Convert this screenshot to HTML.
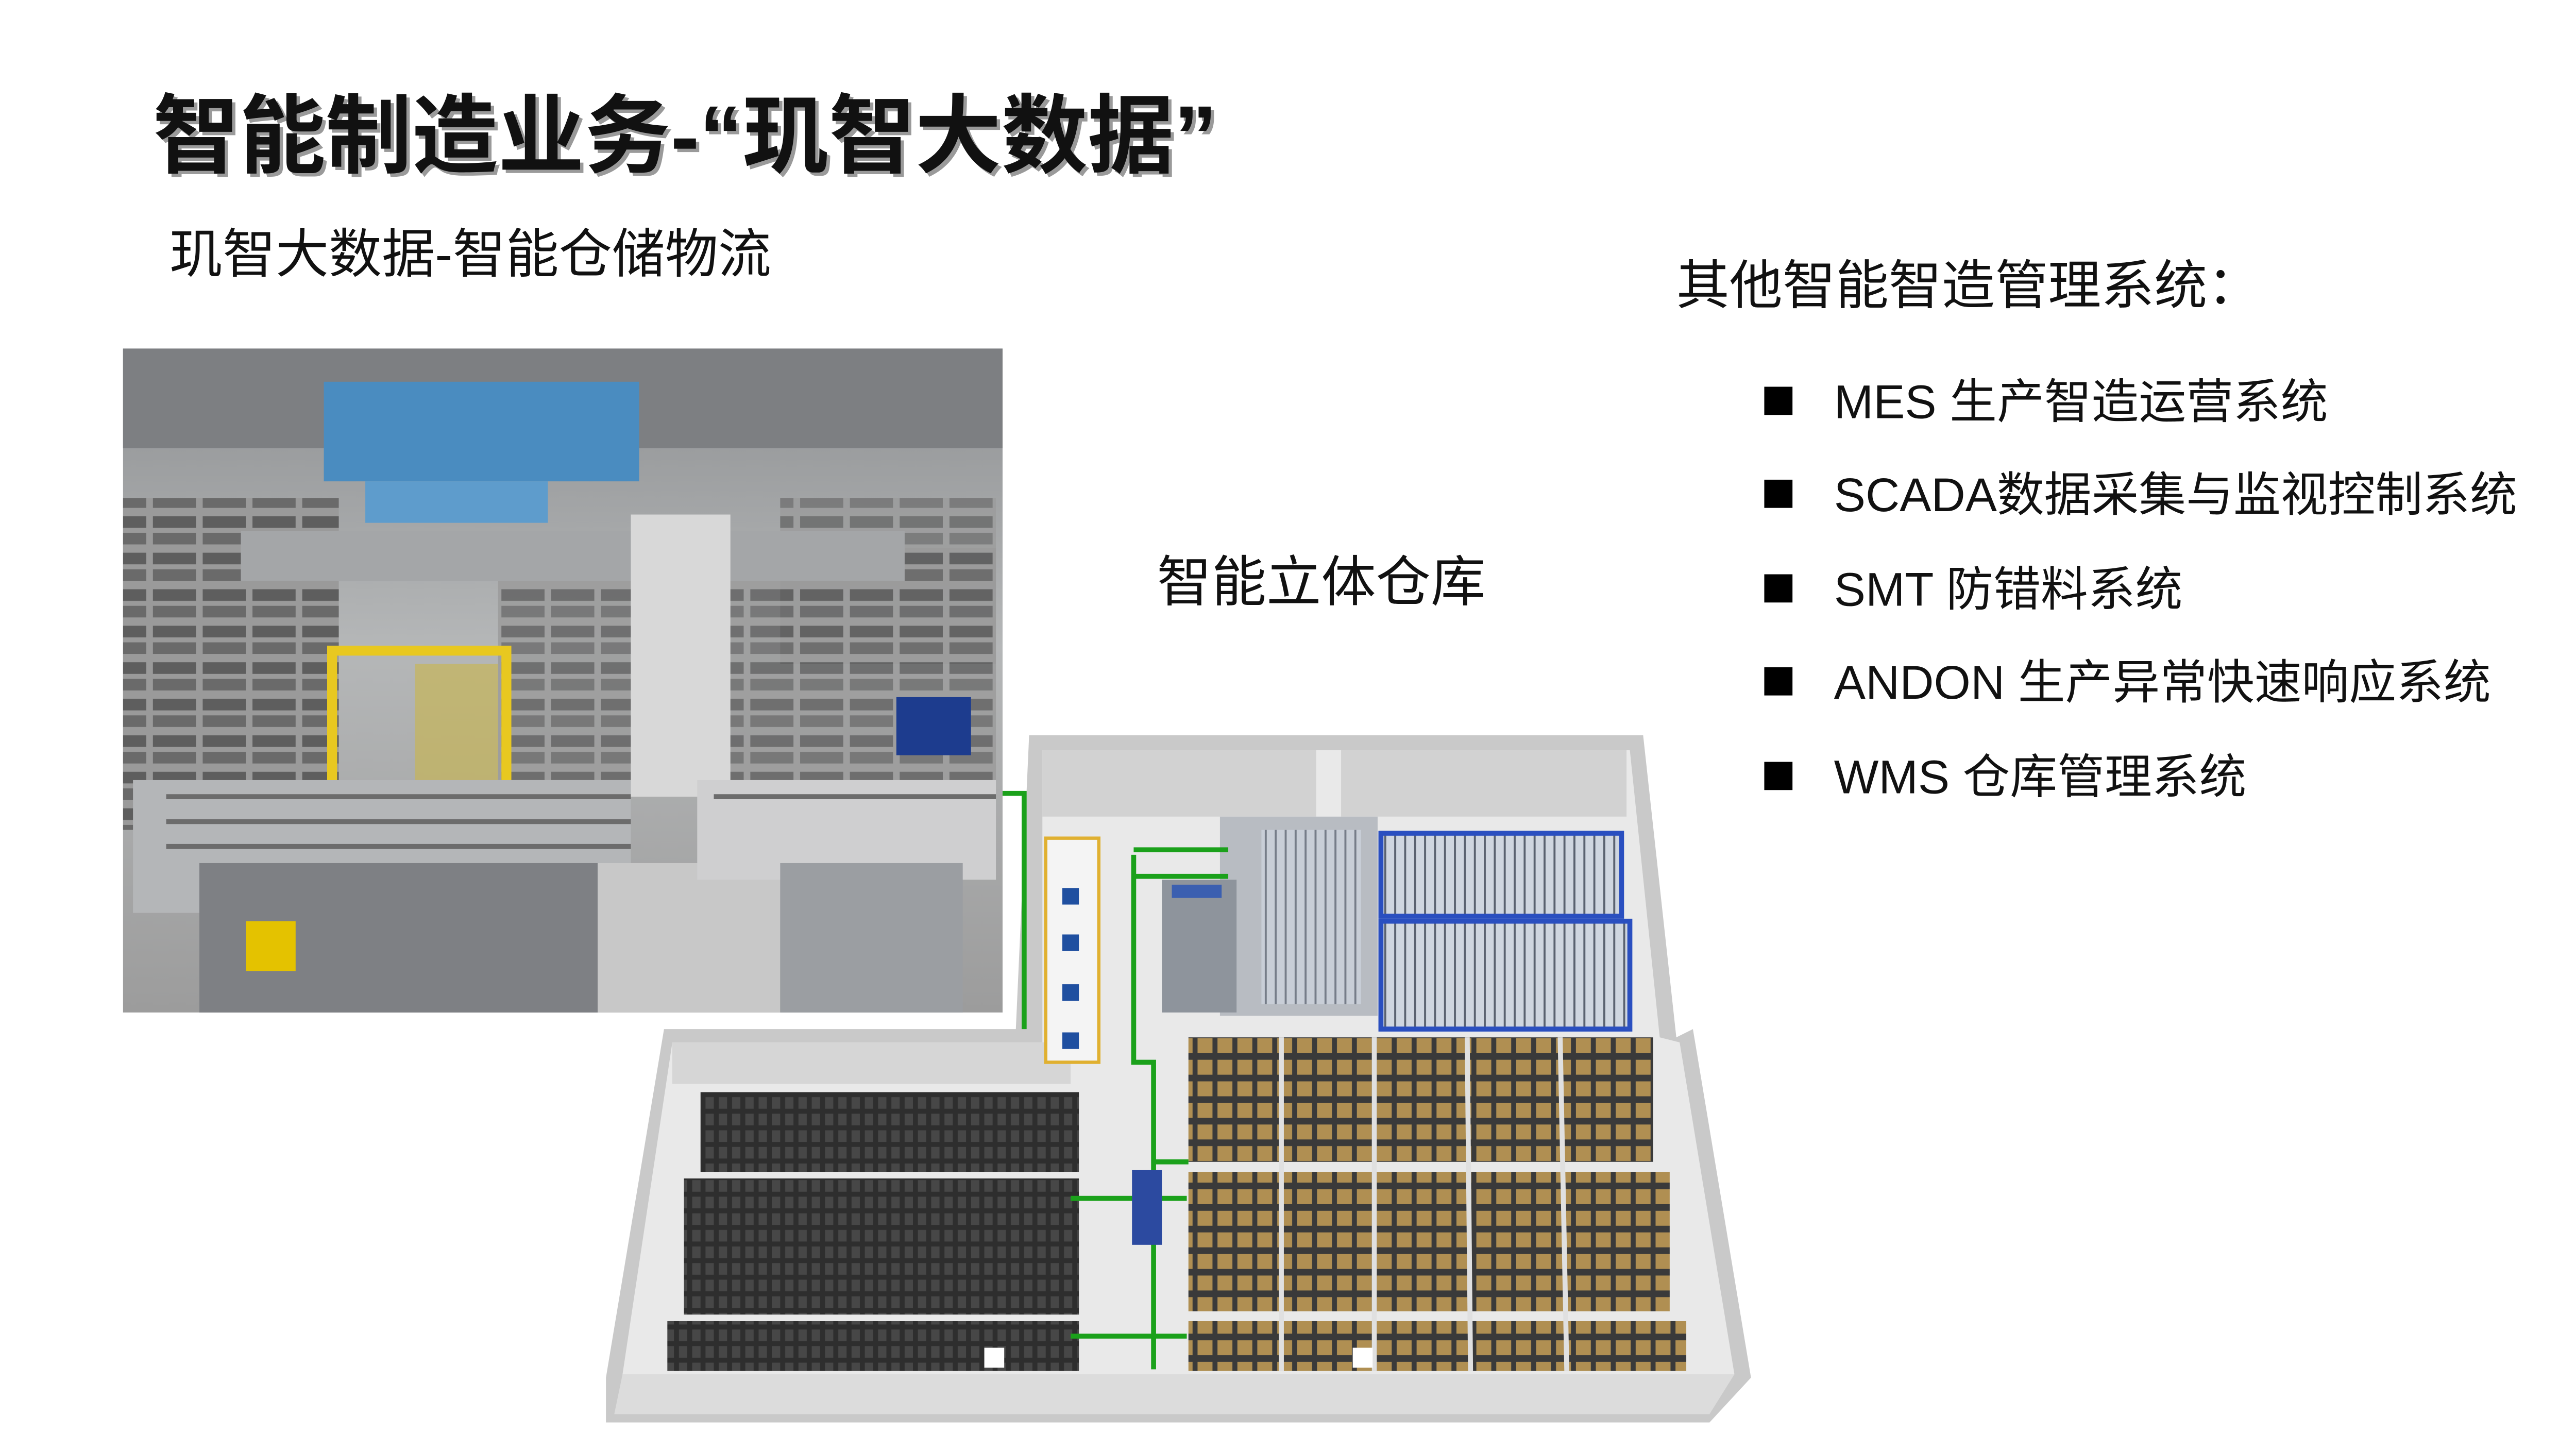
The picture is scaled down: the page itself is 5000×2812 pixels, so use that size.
<!DOCTYPE html>
<html><head><meta charset="utf-8">
<style>
html,body{margin:0;padding:0;background:#fff;}
svg{display:block;}
text{font-family:"Liberation Sans","Noto Sans CJK SC",sans-serif;}
</style></head>
<body>
<svg width="5000" height="2812" viewBox="0 0 1552 873" xmlns="http://www.w3.org/2000/svg">
<defs>
<pattern id="box" x="0" y="0" width="12" height="13" patternUnits="userSpaceOnUse">
<rect width="12" height="13" fill="#3a3a3a"/>
<rect x="1.5" y="1.5" width="9" height="9" fill="#b08f52"/>
</pattern>
<pattern id="dark" x="0" y="0" width="8" height="10" patternUnits="userSpaceOnUse">
<rect width="8" height="10" fill="#2e2e2e"/>
<rect x="1" y="1" width="5" height="7" fill="#474747"/>
</pattern>
<pattern id="rack" x="0" y="0" width="6" height="8" patternUnits="userSpaceOnUse">
<rect width="6" height="8" fill="#cfd6e0"/>
<rect x="0" y="0" width="1.2" height="8" fill="#5a6270"/>
</pattern>
<pattern id="shelf" x="0" y="0" width="30" height="22" patternUnits="userSpaceOnUse">
<rect width="30" height="22" fill="#9a9a9a"/>
<rect x="2" y="3" width="26" height="7" fill="#5e5e5e"/>
<rect x="2" y="13" width="26" height="7" fill="#6a6a6a"/>
</pattern>
<linearGradient id="ph" x1="0" y1="0" x2="0" y2="1">
<stop offset="0" stop-color="#8e9092"/><stop offset="0.45" stop-color="#b5b7b8"/><stop offset="1" stop-color="#9c9c9c"/>
</linearGradient>
</defs>

<text x="94" y="102" font-size="52" font-weight="bold" fill="#9a9a9a">智能制造业务-“玑智大数据”</text>
<text x="92" y="100" font-size="52" font-weight="bold" fill="#111">智能制造业务-“玑智大数据”</text>
<text x="102" y="164" font-size="32" fill="#111">玑智大数据-智能仓储物流</text>

<g>
<rect x="74" y="210" width="530" height="400" fill="url(#ph)"/>
<rect x="74" y="210" width="530" height="60" fill="#7d7f82"/>
<rect x="74" y="300" width="130" height="200" fill="url(#shelf)"/>
<rect x="300" y="330" width="300" height="140" fill="url(#shelf)" opacity="0.8"/>
<rect x="470" y="300" width="130" height="100" fill="url(#shelf)" opacity="0.7"/>
<rect x="145" y="320" width="400" height="30" fill="#a4a6a8"/>
<rect x="195" y="230" width="190" height="60" fill="#4a8cc0"/>
<rect x="220" y="290" width="110" height="25" fill="#5e9ccc"/>
<rect x="380" y="310" width="60" height="170" fill="#d8d8d8"/>
<rect x="200" y="392" width="105" height="120" fill="none" stroke="#e8c820" stroke-width="6"/>
<rect x="250" y="400" width="50" height="100" fill="#c9b54a" opacity="0.6"/>
<rect x="540" y="420" width="45" height="35" fill="#1d3c8e"/>
<rect x="80" y="470" width="300" height="80" fill="#b4b6b8"/>
<rect x="120" y="520" width="240" height="90" fill="#7e8084"/>
<rect x="148" y="555" width="30" height="30" fill="#e4c200"/>
<rect x="360" y="520" width="110" height="90" fill="#c8c8c8"/>
<rect x="420" y="470" width="180" height="60" fill="#cfcfd0"/>
<rect x="470" y="520" width="110" height="90" fill="#9b9ea2"/>
<g stroke="#6c6c6c" stroke-width="3">
<line x1="100" y1="480" x2="380" y2="480"/><line x1="100" y1="495" x2="380" y2="495"/>
<line x1="100" y1="510" x2="380" y2="510"/><line x1="430" y1="480" x2="600" y2="480"/>
</g>
</g>

<text x="697" y="362" font-size="33" fill="#111">智能立体仓库</text>

<g>
<polygon points="620,443 990,443 1010,625 1020,620 1055,830 1030,857 365,857 365,830 400,620 612,620" fill="#c9c9c9"/>
<polygon points="628,452 982,452 1000,625 1012,628 1045,828 375,828 405,628 628,628" fill="#e9e9e9"/>
<polygon points="375,828 1045,828 1030,852 370,852" fill="#dcdcdc"/>
<rect x="628" y="452" width="165" height="40" fill="#d2d2d2"/>
<rect x="808" y="452" width="172" height="40" fill="#d2d2d2"/>
<rect x="405" y="628" width="240" height="25" fill="#d6d6d6"/>
<rect x="422" y="658" width="228" height="48" fill="url(#dark)"/>
<rect x="412" y="710" width="238" height="82" fill="url(#dark)"/>
<rect x="402" y="796" width="248" height="30" fill="url(#dark)"/>
<rect x="716" y="625" width="280" height="75" fill="url(#box)"/>
<rect x="716" y="706" width="290" height="84" fill="url(#box)"/>
<rect x="716" y="796" width="300" height="30" fill="url(#box)"/>
<g stroke="#e0e0e0" stroke-width="3">
<line x1="772" y1="625" x2="772" y2="826"/><line x1="828" y1="625" x2="828" y2="826"/>
<line x1="884" y1="625" x2="886" y2="826"/><line x1="940" y1="625" x2="944" y2="826"/>
</g>
<rect x="832" y="502" width="145" height="50" fill="url(#rack)" stroke="#2a4fc0" stroke-width="3"/>
<rect x="832" y="555" width="150" height="65" fill="url(#rack)" stroke="#2a4fc0" stroke-width="3"/>
<rect x="735" y="492" width="95" height="120" fill="#b8bcc2"/>
<rect x="700" y="530" width="45" height="80" fill="#8e949c"/>
<rect x="760" y="500" width="60" height="105" fill="url(#rack)" opacity="0.7"/>
<rect x="706" y="533" width="30" height="8" fill="#3b5fb0"/>
<rect x="630" y="505" width="32" height="135" fill="#f4f4f4" stroke="#e0b030" stroke-width="2"/>
<rect x="640" y="535" width="10" height="10" fill="#1f4fa0"/><rect x="640" y="563" width="10" height="10" fill="#1f4fa0"/>
<rect x="640" y="593" width="10" height="10" fill="#1f4fa0"/><rect x="640" y="622" width="10" height="10" fill="#1f4fa0"/>
<g stroke="#1ba11b" stroke-width="3" fill="none">
<polyline points="604,478 617,478 617,620"/>
<polyline points="683,515 683,640 695,640 695,825"/>
<line x1="683" y1="528" x2="740" y2="528"/><line x1="683" y1="512" x2="740" y2="512"/>
<line x1="645" y1="722" x2="715" y2="722"/><line x1="645" y1="805" x2="715" y2="805"/>
<line x1="695" y1="700" x2="716" y2="700"/>
</g>
<rect x="682" y="705" width="18" height="45" fill="#2c4aa0"/>
<rect x="593" y="812" width="12" height="12" fill="#fff"/>
<rect x="815" y="812" width="12" height="12" fill="#fff"/>
</g>

<text x="1010" y="183" font-size="32" fill="#111">其他智能智造管理系统：</text>
<g font-size="28.5" fill="#111">
<rect x="1063" y="233" width="17" height="17" fill="#000"/><text x="1105" y="252">MES 生产智造运营系统</text>
<rect x="1063" y="289" width="17" height="17" fill="#000"/><text x="1105" y="308">SCADA数据采集与监视控制系统</text>
<rect x="1063" y="346" width="17" height="17" fill="#000"/><text x="1105" y="365">SMT 防错料系统</text>
<rect x="1063" y="402" width="17" height="17" fill="#000"/><text x="1105" y="421">ANDON 生产异常快速响应系统</text>
<rect x="1063" y="459" width="17" height="17" fill="#000"/><text x="1105" y="478">WMS 仓库管理系统</text>
</g>
</svg>
</body></html>
